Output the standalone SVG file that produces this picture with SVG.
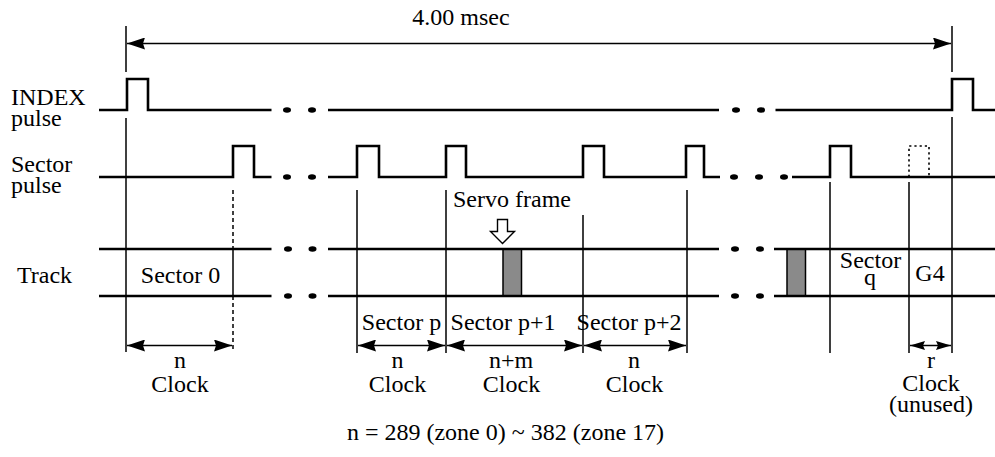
<svg xmlns="http://www.w3.org/2000/svg" width="995" height="457" viewBox="0 0 995 457">
<style>
text{font-family:"Liberation Serif","Times New Roman",serif;font-size:24px;fill:#000}
.c{text-anchor:middle}
.sig{fill:none;stroke:#000;stroke-width:2.6;stroke-linejoin:miter}
.thin{fill:none;stroke:#000;stroke-width:1.5}
.dash{fill:none;stroke:#000;stroke-width:1.5;stroke-dasharray:4 3}
.dot{fill:none;stroke:#000;stroke-width:1.6;stroke-dasharray:2.2 3}
.gray{fill:#8a8a8a;stroke:#000;stroke-width:1.5}
.dots ellipse{fill:#000}
.dim{fill:none;stroke:#000;stroke-width:1.5}
</style>
<defs>
<marker id="ah" viewBox="0 0 18 12" refX="18" refY="6" markerWidth="18" markerHeight="12" markerUnits="userSpaceOnUse" orient="auto-start-reverse">
<path d="M0,0 L18,6 L0,12 L2,6 Z" fill="#000"/>
</marker>
<marker id="ahs" viewBox="0 0 15 9" refX="15" refY="4.5" markerWidth="15" markerHeight="9" markerUnits="userSpaceOnUse" orient="auto-start-reverse">
<path d="M0,0 L15,4.5 L0,9 L2,4.5 Z" fill="#000"/>
</marker>
</defs>
<rect width="995" height="457" fill="#fff"/>

<g id="row-labels">
<text x="11" y="105">INDEX</text>
<text x="11" y="126">pulse</text>
<text x="11" y="172">Sector</text>
<text x="11" y="193">pulse</text>
<text x="17" y="283">Track</text>
</g>

<g id="index-pulse">
<path class="sig" d="M99,110 H127 V79 H148 V110 H271.5"/>
<path class="sig" d="M328,110 H719"/>
<path class="sig" d="M775.5,110 H952 V79 H973 V110 H995"/>
<g class="dots"><ellipse cx="287" cy="110" rx="4" ry="2.8"/><ellipse cx="312" cy="110" rx="4" ry="2.8"/><ellipse cx="736" cy="110" rx="4" ry="2.8"/><ellipse cx="761" cy="110" rx="4" ry="2.8"/></g>
</g>

<g id="sector-pulse">
<path class="sig" d="M99,177 H233 V146 H254 V177 H271.5"/>
<path class="sig" d="M328,177 H357 V146 H379 V177 H446 V146 H466 V177 H583 V146 H604 V177 H686 V146 H704 V177 H720"/>
<path class="sig" d="M792,177 H830 V146 H851 V177 H995"/>
<path class="dot" d="M909,177 V146 H929 V177"/>
<g class="dots"><ellipse cx="287" cy="177" rx="4" ry="2.8"/><ellipse cx="312" cy="177" rx="4" ry="2.8"/><ellipse cx="734" cy="177" rx="4" ry="2.8"/><ellipse cx="759" cy="177" rx="4" ry="2.8"/><ellipse cx="784" cy="177" rx="4" ry="2.8"/></g>
</g>

<g id="track">
<rect class="gray" x="503" y="249" width="18.5" height="47"/>
<rect class="gray" x="787" y="249" width="18.5" height="47"/>
<path class="sig" d="M99,249 H271.5 M328,249 H719 M774,249 H995"/>
<path class="sig" d="M99,296 H271.5 M328,296 H719 M774,296 H995"/>
<g class="dots"><ellipse cx="288" cy="249" rx="4" ry="2.8"/><ellipse cx="312.5" cy="249" rx="4" ry="2.8"/><ellipse cx="288" cy="296" rx="4" ry="2.8"/><ellipse cx="312.5" cy="296" rx="4" ry="2.8"/><ellipse cx="735" cy="249" rx="4" ry="2.8"/><ellipse cx="760" cy="249" rx="4" ry="2.8"/><ellipse cx="735" cy="296" rx="4" ry="2.8"/><ellipse cx="760" cy="296" rx="4" ry="2.8"/></g>
<text class="c" x="180.5" y="283">Sector 0</text>
<text class="c" x="870.5" y="268">Sector</text>
<text class="c" x="870" y="285">q</text>
<text class="c" x="930" y="281">G4</text>
</g>

<g id="servo-frame">
<text x="453" y="207">Servo frame</text>
<path d="M497.5,219.5 H507.5 V231.5 H514.5 L502.5,243.5 L490.5,231.5 H497.5 Z" fill="#fff" stroke="#000" stroke-width="1.4"/>
</g>

<g id="connectors">
<path class="thin" d="M126,26 V72 M952,26 V72"/>
<path class="thin" d="M126,118 V352"/>
<path class="dash" d="M233,190 V249 M233,296 V352"/>
<path class="thin" d="M233,249 V296"/>
<path class="thin" d="M357,190 V353 M446,190 V353 M583,215 V353 M687,190 V353 M830,182 V353 M909,182 V353 M952,117 V353"/>
<line class="dim" x1="127" y1="43.5" x2="951" y2="43.5" marker-start="url(#ah)" marker-end="url(#ah)"/>
<line class="dim" x1="127" y1="345.5" x2="232" y2="345.5" marker-start="url(#ah)" marker-end="url(#ah)"/>
<line class="dim" x1="358" y1="345.5" x2="445" y2="345.5" marker-start="url(#ah)" marker-end="url(#ah)"/>
<line class="dim" x1="447" y1="345.5" x2="582" y2="345.5" marker-start="url(#ah)" marker-end="url(#ah)"/>
<line class="dim" x1="584" y1="345.5" x2="686" y2="345.5" marker-start="url(#ah)" marker-end="url(#ah)"/>
<line class="dim" x1="910" y1="345.5" x2="951" y2="345.5" marker-start="url(#ahs)" marker-end="url(#ahs)"/>
</g>

<g id="dimension-labels">
<text class="c" x="461" y="25">4.00 msec</text>
<text class="c" x="401.5" y="330">Sector p</text>
<text class="c" x="503" y="330">Sector p+1</text>
<text class="c" x="629" y="330">Sector p+2</text>
<text class="c" x="180" y="368">n</text>
<text class="c" x="180" y="392">Clock</text>
<text class="c" x="397.5" y="368">n</text>
<text class="c" x="397.5" y="392">Clock</text>
<text class="c" x="511" y="368">n+m</text>
<text class="c" x="511.5" y="392">Clock</text>
<text class="c" x="634" y="368">n</text>
<text class="c" x="634.5" y="392">Clock</text>
<text class="c" x="931" y="368">r</text>
<text class="c" x="931" y="391">Clock</text>
<text class="c" x="931" y="412">(unused)</text>
<text class="c" x="505.5" y="440">n = 289 (zone 0) ~ 382 (zone 17)</text>
</g>
</svg>
